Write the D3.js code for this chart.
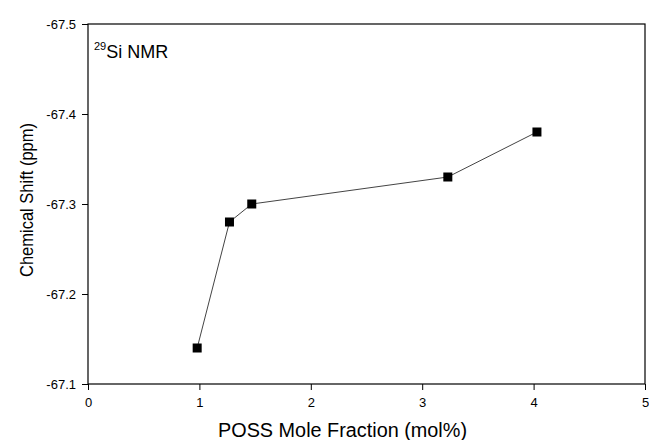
<!DOCTYPE html>
<html lang="en">
<head>
<meta charset="utf-8">
<script src="https://d3js.org/d3.v7.min.js"></script>
<style>
  body { margin: 0; background: #fff; }
  text { font-family: "Liberation Sans", Arial, sans-serif; fill: #000; }
</style>
</head>
<body>
<script>
// data
var molFraction = [0.98, 1.27, 1.47, 3.23, 4.03];
var shift = [-67.14, -67.28, -67.30, -67.33, -67.38];
var xTicks = [0, 1, 2, 3, 4, 5];
var yTicks = [-67.5, -67.4, -67.3, -67.2, -67.1];

var W = 649, H = 440;
var m = {left: 88, right: 4, top: 24, bottom: 56};

var svg = d3.select("body").append("svg")
    .attr("width", W).attr("height", H);

var x = d3.scaleLinear().domain([0, 5]).range([m.left, W - m.right]);
var y = d3.scaleLinear().domain([-67.1, -67.5]).range([H - m.bottom, m.top]);

// frame
svg.append("rect")
    .attr("x", x(0)).attr("y", y(-67.5))
    .attr("width", x(5) - x(0)).attr("height", y(-67.1) - y(-67.5))
    .attr("fill", "none").attr("stroke", "#000").attr("stroke-width", 1.2);

var fmtY = function(d) { return d3.format(".1f")(d).replace("\u2212", "-"); };

var xAxis = svg.append("g")
    .attr("transform", "translate(0," + y(-67.1) + ")")
    .call(d3.axisBottom(x).tickValues(xTicks).tickFormat(d3.format("d")).tickSize(6).tickPadding(8));
var yAxis = svg.append("g")
    .attr("transform", "translate(" + x(0) + ",0)")
    .call(d3.axisLeft(y).tickValues(yTicks).tickFormat(fmtY).tickSize(6).tickPadding(6));

[xAxis, yAxis].forEach(function(a) {
  a.select(".domain").remove();
  a.selectAll("text").style("font-size", "13px").style("font-family", "Liberation Sans, Arial, sans-serif");
  a.selectAll("line").attr("stroke", "#000");
});

var pts = molFraction.map(function(d, i) { return [d, shift[i]]; });

svg.append("path")
    .datum(pts)
    .attr("fill", "none")
    .attr("stroke", "#444")
    .attr("stroke-width", 1)
    .attr("d", d3.line().x(function(d) { return x(d[0]); }).y(function(d) { return y(d[1]); }));

svg.selectAll("rect.pt").data(pts).enter().append("rect")
    .attr("class", "pt")
    .attr("x", function(d) { return x(d[0]) - 4.5; })
    .attr("y", function(d) { return y(d[1]) - 4.5; })
    .attr("width", 9).attr("height", 9)
    .attr("fill", "#000");

// labels
svg.append("text")
    .attr("x", 218).attr("y", 437)
    .attr("textLength", 249).attr("lengthAdjust", "spacingAndGlyphs")
    .style("font-size", "20px")
    .text("POSS Mole Fraction (mol%)");

svg.append("text")
    .attr("transform", "translate(33,277) rotate(-90)")
    .attr("textLength", 154).attr("lengthAdjust", "spacingAndGlyphs")
    .style("font-size", "18px")
    .text("Chemical Shift (ppm)");

var note = svg.append("text")
    .attr("x", 94).attr("y", 58)
    .style("font-size", "18px");
note.append("tspan").attr("dy", "-8").style("font-size", "11px").text("29");
note.append("tspan").attr("dy", "8").text("Si NMR");
</script>
</body>
</html>
